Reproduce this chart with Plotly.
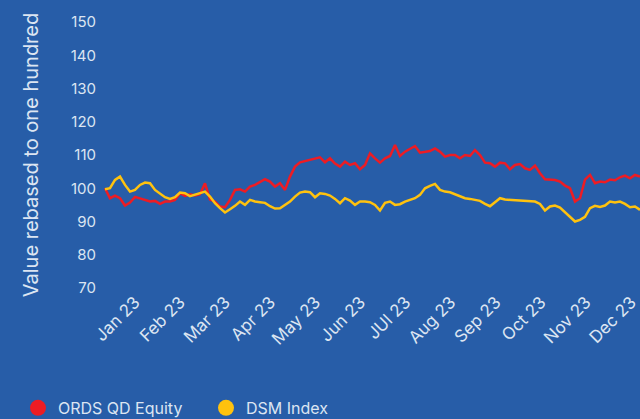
import pandas as pd
import plotly.graph_objects as go

# ---- data ----
month_labels = ["Jan 23", "Feb 23", "Mar 23", "Apr 23", "May 23", "Jun 23",
                "JUl 23", "Aug 23", "Sep 23", "Oct 23", "Nov 23", "Dec 23"]

ords_qd_equity = [
    100, 97, 97.8, 97, 94.8, 95.7, 97.4, 97, 96.6, 96,
    96.2, 95.3, 96, 96, 96.5, 98.5, 97.7, 98.2, 97.8, 98.2,
    101.5, 96.6, 96, 94.5, 94.3, 96.5, 99.5, 99.7, 99, 100.5,
    101, 101.8, 102.7, 102, 100.5, 101.5, 99.5, 103.5, 106.5, 107.8,
    108.2, 108.5, 108.8, 109.3, 107.8, 109, 107.4, 106.5, 108, 107,
    107.5, 105.7, 107, 110.5, 109, 107.7, 109, 109.7, 113, 109.7,
    111, 111.8, 112.7, 110.7, 111, 111.2, 112, 111, 109.5, 110,
    110, 109, 110, 109.7, 111.5, 110, 107.7, 107.5, 106.5, 107.7,
    107.5, 105.7, 107, 107.3, 106, 105.5, 106.8, 104.5, 102.7, 102.6,
    102.5, 102, 100.8, 100, 96, 97, 102.6, 104, 101.5, 102,
    101.8, 102.6, 102.4, 103.3, 103.8, 103, 104, 103.5,
]

dsm_index = [
    99.7, 100, 102.5, 103.5, 101, 99, 99.5, 101, 101.7, 101.5,
    99.5, 98.5, 97.3, 96.8, 97.3, 98.7, 98.5, 97.6, 98, 98.5,
    99, 97.5, 95.5, 94, 92.7, 93.7, 94.7, 96, 95, 96.5,
    96, 95.8, 95.6, 94.6, 93.9, 94, 95, 96, 97.5, 98.7,
    99, 98.8, 97.3, 98.5, 98.3, 97.8, 96.8, 95.5, 97, 96.3,
    95, 96, 96, 95.8, 95, 93.3, 95.6, 96, 95, 95.2,
    96, 96.5, 97, 98, 100, 100.7, 101.3, 99.5, 99, 98.8,
    98.2, 97.5, 97, 96.8, 96.5, 96.2, 95.3, 94.6, 95.8, 97,
    96.6, 96.5, 96.6, 96.3, 96.3, 96.2, 96, 95.3, 93.3, 94.5,
    94.8, 94.2, 92.8, 91.5, 90, 90.5, 91.4, 94, 94.7, 94.4,
    94.8, 96, 95.7, 96, 95.3, 94.3, 94.5, 93.5,
]

n = min(len(ords_qd_equity), len(dsm_index))
ords_qd_equity = ords_qd_equity[:n]
dsm_index = dsm_index[:n]
dates = pd.date_range("2022-12-11", "2023-12-05", periods=n)

# ---- style ----
BG = "#275DA8"
RED = "#ED1C24"
YELLOW = "#FFC20E"
TXT = "#DCE5F2"
FONT = "Inter"

step = dates[1] - dates[0]          # time per sample (5 px in the picture)
x_start = dates[0] - step * 1.6
x_end = dates[-1]
# evenly spaced month ticks (about 9 samples apart)
tickvals = [dates[0] + step * (6.0 + 9.02 * k) for k in range(len(month_labels))]

fig = go.Figure()
fig.add_trace(go.Scatter(x=dates, y=ords_qd_equity, mode="lines",
                         line=dict(color=RED, width=2.5), showlegend=False,
                         name="ORDS QD Equity"))
fig.add_trace(go.Scatter(x=dates, y=dsm_index, mode="lines",
                         line=dict(color=YELLOW, width=2.5), showlegend=False,
                         name="DSM Index"))
# legend entries (circles)
fig.add_trace(go.Scatter(x=[None], y=[None], mode="markers", name="ORDS QD Equity",
                         marker=dict(color=RED, size=16, symbol="circle")))
fig.add_trace(go.Scatter(x=[None], y=[None], mode="markers", name="DSM Index",
                         marker=dict(color=YELLOW, size=16, symbol="circle")))

fig.update_layout(
    width=640, height=419,
    paper_bgcolor=BG, plot_bgcolor=BG,
    margin=dict(l=97, r=0, t=22, b=131, autoexpand=False),
    font=dict(family=FONT, color=TXT, size=15),
    legend=dict(orientation="h", x=-0.1455, xanchor="left", y=-0.451, yanchor="middle",
                font=dict(size=16, color=TXT), entrywidth=143,
                bgcolor="rgba(0,0,0,0)"),
    xaxis=dict(type="date", range=[x_start, x_end], tickmode="array",
               tickvals=tickvals, ticktext=month_labels, tickangle=-45,
               showgrid=False, zeroline=False, showline=False, ticks="",
               tickfont=dict(size=17, color=TXT)),
    yaxis=dict(range=[70, 150], tickvals=[70, 80, 90, 100, 110, 120, 130, 140, 150],
               showgrid=False, zeroline=False, showline=False, ticks="",
               tickfont=dict(size=15, color=TXT),
               title=dict(text="Value rebased to one hundred",
                          font=dict(size=20, color=TXT), standoff=26)),
)

fig.write_html(
    "out.html",
    config={"displayModeBar": False},
    post_script="document.body.style.margin='0';"
                "document.body.style.background='" + BG + "';",
)
